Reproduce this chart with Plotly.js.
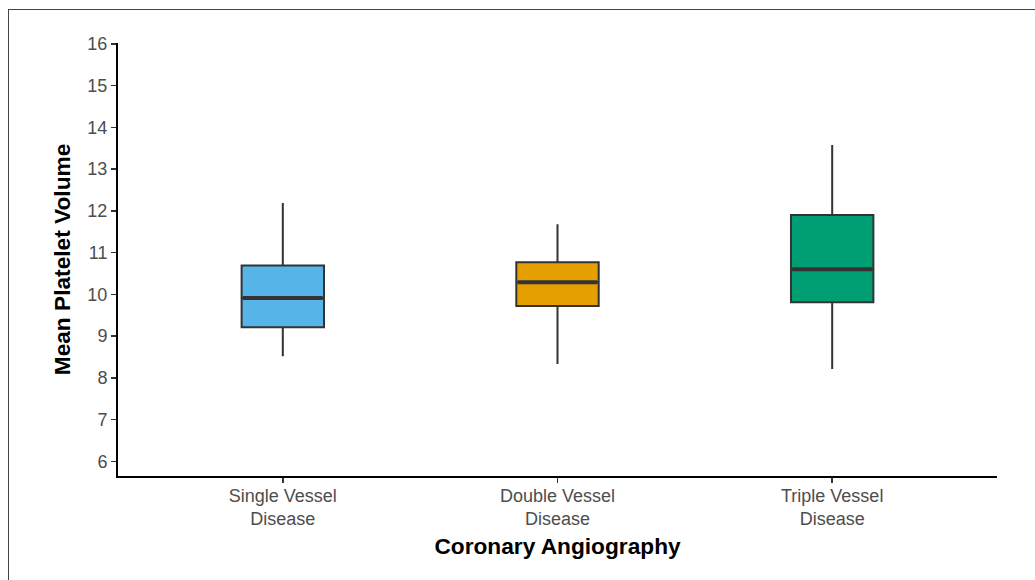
<!DOCTYPE html>
<html>
<head>
<meta charset="utf-8">
<script src="https://cdn.plot.ly/plotly-3.0.1.min.js"></script>
<style>
  html, body { margin: 0; padding: 0; background: #fff; }
  #wrap { position: relative; width: 1035px; height: 580px; overflow: hidden; }
  #chart { position: absolute; left: 0; top: 0; width: 1035px; height: 580px; }
  #frame { position: absolute; left: 8px; top: 9px; width: 1040px; height: 600px;
           border-left: 1px solid #444; border-top: 1px solid #444; pointer-events: none; }
</style>
</head>
<body>
<div id="wrap">
  <div id="chart"></div>
  <div id="frame"></div>
</div>
<script>
// Data
const categories = ["Single Vessel<br>Disease", "Double Vessel<br>Disease", "Triple Vessel<br>Disease"];
const lowerWhisker = [8.52, 8.33, 8.21];
const q1Values = [9.21, 9.72, 9.81];
const medianValues = [9.91, 10.29, 10.60];
const q3Values = [10.69, 10.77, 11.90];
const upperWhisker = [12.19, 11.68, 13.58];
const boxColors = ["#56B4E9", "#E69F00", "#009E73"];
const yTicks = [6, 7, 8, 9, 10, 11, 12, 13, 14, 15, 16];

const halfWidth = 0.15;
const traces = [];
categories.forEach((c, i) => {
  traces.push({
    type: "box",
    x: [i],
    q1: [q1Values[i]],
    median: [medianValues[i]],
    q3: [q3Values[i]],
    lowerfence: [lowerWhisker[i]],
    upperfence: [upperWhisker[i]],
    width: 2 * halfWidth,
    whiskerwidth: 0,
    fillcolor: boxColors[i],
    line: { color: "#333333", width: 2 },
    boxpoints: false,
    hoverinfo: "skip",
    showlegend: false
  });
});
categories.forEach((c, i) => {
  traces.push({
    type: "scatter",
    mode: "lines",
    x: [i - halfWidth + 0.005, i + halfWidth - 0.005],
    y: [medianValues[i], medianValues[i]],
    line: { color: "#333333", width: 4 },
    hoverinfo: "skip",
    showlegend: false
  });
});

const layout = {
  width: 1035,
  height: 580,
  margin: { l: 118, r: 38, t: 43, b: 104 },
  paper_bgcolor: "#ffffff",
  plot_bgcolor: "#ffffff",
  font: { family: "Liberation Sans, Arial, sans-serif" },
  xaxis: {
    range: [-0.6, 2.6],
    tickmode: "array",
    tickvals: [0, 1, 2],
    ticktext: categories,
    showgrid: false,
    zeroline: false,
    showline: true,
    linecolor: "#000000",
    linewidth: 2,
    ticks: "outside",
    ticklen: 5,
    tickwidth: 1.5,
    tickcolor: "#333333",
    ticklabelstandoff: -3,
    tickfont: { size: 18, color: "#4d4d4d" },
    title: { text: "Coronary Angiography", font: { size: 22.7, color: "#000000", weight: "bold" }, standoff: 10 },
    fixedrange: true
  },
  yaxis: {
    range: [5.65, 16.02],
    tickmode: "array",
    tickvals: yTicks,
    showgrid: false,
    zeroline: false,
    showline: true,
    linecolor: "#000000",
    linewidth: 2,
    ticks: "outside",
    ticklen: 5,
    tickwidth: 1.5,
    tickcolor: "#333333",
    tickfont: { size: 18, color: "#4d4d4d" },
    title: { text: "Mean Platelet Volume", font: { size: 22.7, color: "#000000", weight: "bold" }, standoff: 10 },
    fixedrange: true
  }
};

Plotly.newPlot("chart", traces, layout, { displayModeBar: false, staticPlot: true });
</script>
</body>
</html>
